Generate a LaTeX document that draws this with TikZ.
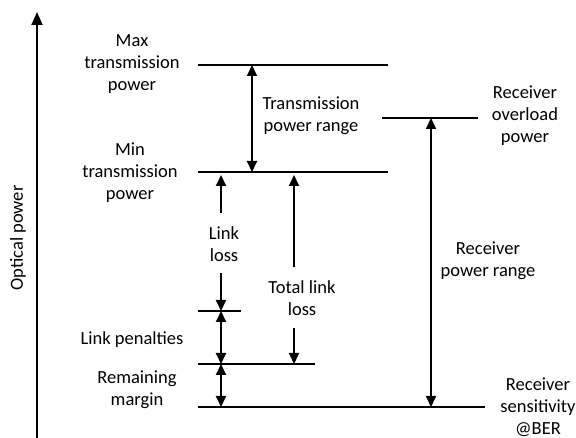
\documentclass[tikz,border=0pt]{standalone}
\usepackage{fontspec}
\setmainfont{Carlito}
\usetikzlibrary{arrows.meta}

\begin{document}
\begin{tikzpicture}
  [x=1pt, y=-1pt,
   levelline/.style={line width=2pt},
   span/.style={line width=2pt, {Triangle[length=11pt,width=10pt]}-{Triangle[length=11pt,width=10pt]}},
   halfspan/.style={line width=2pt, -{Triangle[length=11pt,width=10pt]}},
   txt/.style={align=center, font=\fontsize{18.5}{22}\selectfont, inner sep=0pt}]
  \useasboundingbox (0,0) rectangle (576,438);
  % power axis
  \coordinate (axis bot) at (37,438);
  \coordinate (axis top) at (37,12);
  \draw[line width=2pt, -{Triangle[length=13pt,width=11pt]}] (axis bot) -- (axis top);
  \node[txt, rotate=90] (axis t) at (18,238) {Optical power};
  % levels
  \coordinate (max l) at (198,65);  \coordinate (max r) at (388,65);
  \coordinate (min l) at (198,172); \coordinate (min r) at (388,172);
  \coordinate (ovl l) at (382,118); \coordinate (ovl r) at (478,118);
  \coordinate (pen l) at (198,311); \coordinate (pen r) at (241,311);
  \coordinate (mar l) at (198,364); \coordinate (mar r) at (315,364);
  \coordinate (sen l) at (198,407); \coordinate (sen r) at (485,407);
  \draw[levelline] (max l) -- (max r);
  \draw[levelline] (min l) -- (min r);
  \draw[levelline] (ovl l) -- (ovl r);
  \draw[levelline] (pen l) -- (pen r);
  \draw[levelline] (mar l) -- (mar r);
  \draw[levelline] (sen l) -- (sen r);
  % level names
  \node[txt] (max t) at (132,64) {Max\\transmission\\power};
  \node[txt] (min t) at (130,173) {Min\\transmission\\power};
  \node[txt] (ovl t) at (525,116) {Receiver\\overload\\power};
  \node[txt] (pen t) at (132,340) {Link penalties};
  \node[txt] (mar t) at (137,390) {Remaining\\margin};
  \node[txt] (sen t) at (538,407) {Receiver\\sensitivity\\@BER};
  % ranges
  \coordinate (tr top) at (252,65);  \coordinate (tr bot) at (252,172);
  \coordinate (rr top) at (431,118); \coordinate (rr bot) at (431,407);
  \coordinate (ll top) at (221,175); \coordinate (ll a) at (221,213);
  \coordinate (ll b) at (221,273);   \coordinate (ll bot) at (221,311);
  \coordinate (tl top) at (294,175); \coordinate (tl a) at (294,267);
  \coordinate (tl b) at (294,328);   \coordinate (tl bot) at (294,364);
  \coordinate (pr bot) at (221,364);
  \coordinate (rm top) at (221,364); \coordinate (rm bot) at (221,407);
  \draw[span] (tr top) -- (tr bot);
  \draw[span] (rr top) -- (rr bot);
  \draw[halfspan] (ll a) -- (ll top);
  \draw[halfspan] (ll b) -- (ll bot);
  \draw[halfspan] (tl a) -- (tl top);
  \draw[halfspan] (tl b) -- (tl bot);
  \draw[span] (ll bot) -- (pr bot);
  \draw[span] (rm top) -- (rm bot);
  \node[txt] (tr t) at (311,116) {Transmission\\power range};
  \node[txt] (rr t) at (488,261) {Receiver\\power range};
  \node[txt] (ll t) at (224,244) {Link\\loss};
  \node[txt] (tl t) at (302,298) {Total link\\loss};
\end{tikzpicture}
\end{document}
